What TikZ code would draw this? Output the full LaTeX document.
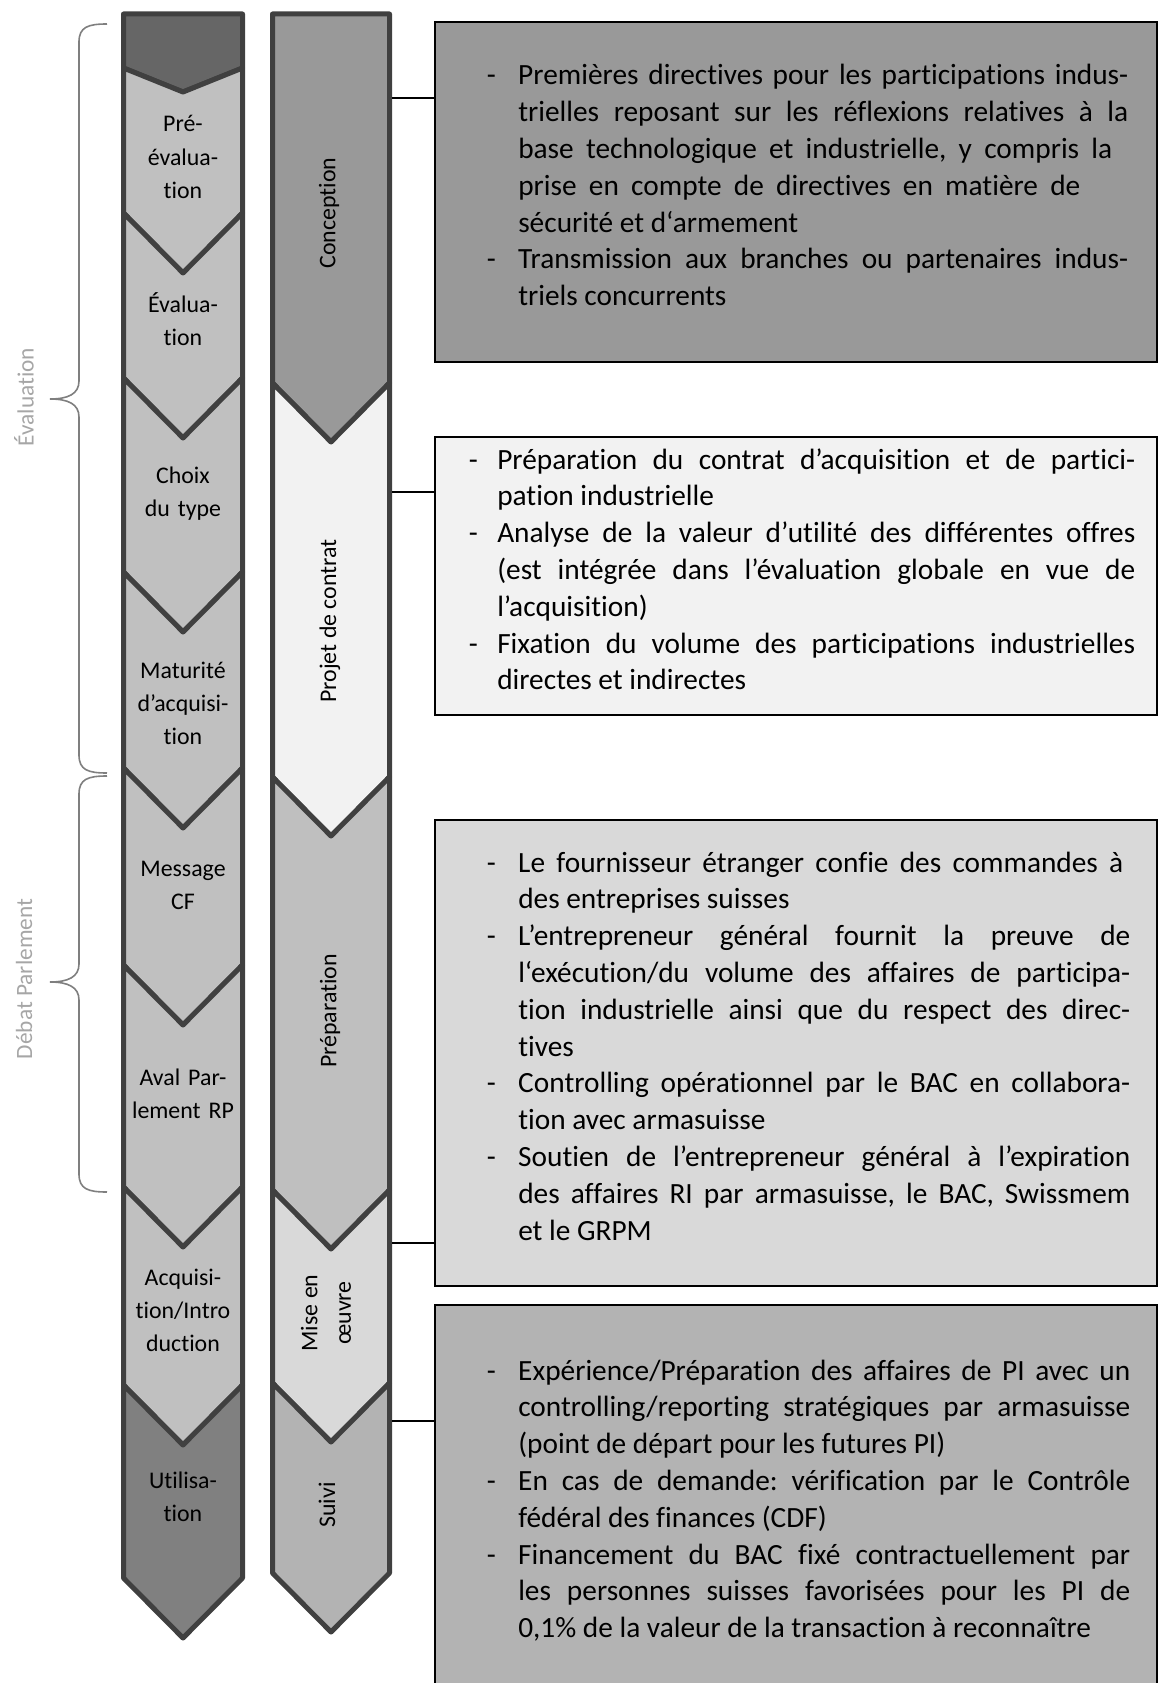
\documentclass[tikz,border=0pt]{standalone}
\usepackage{fontspec}
\setmainfont{Carlito}[Ligatures=CommonOff]
\usetikzlibrary{fit}
\frenchspacing
\newlength\pxu \setlength\pxu{0.75pt}
\newlength\jw
\newlength\dw
\newcommand\hd{\makebox[\dw][l]{-}}
\newcommand\ind{\hspace*{\dw}}
\newcommand\jl[2][\jw]{\makebox[#1][s]{#2}}
\definecolor{segline}{HTML}{404040}
\definecolor{ldark}{HTML}{666666}
\definecolor{lmid}{HTML}{C0C0C0}
\definecolor{lutil}{HTML}{808080}
\definecolor{conc}{HTML}{999999}
\definecolor{proj}{HTML}{F2F2F2}
\definecolor{prep}{HTML}{BFBFBF}
\definecolor{mise}{HTML}{D9D9D9}
\definecolor{suivi}{HTML}{B3B3B3}
\definecolor{bracegray}{HTML}{7F7F7F}
\definecolor{bracetext}{HTML}{A6A6A6}
\newcommand\chevseg[8]{\filldraw[seg, fill=#8] (#1,#4) -- (#3,#5) -- (#2,#4) -- (#2,#6) -- (#3,#7) -- (#1,#6) -- cycle;}
\begin{document}
\begin{tikzpicture}[x=0.75pt,y=-0.75pt,
  seg/.style={draw=segline, line width=3.75pt, line join=round},
  infobox/.style={draw=black, line width=1.5pt, inner sep=0pt},
  conn/.style={draw=black, line width=1.5pt},
  coltxt/.style={font=\fontsize{17.9}{25.1}\selectfont, align=center, inner sep=0pt},
  boxtxt/.style={anchor=base west, inner sep=0pt},
  bracetxt/.style={font=\fontsize{17.5}{21}\selectfont, text=bracetext, inner sep=0pt},
  curly/.style={draw=bracegray, line width=1.2pt}]
\useasboundingbox (0,0) rectangle (1160,1683);

% left column
\chevseg{123.5}{242.5}{183}{14}{14}{68}{92}{ldark}
\chevseg{123.5}{242.5}{183}{68}{92}{213}{273}{lmid}
\chevseg{123.5}{242.5}{183}{213}{273}{378}{438}{lmid}
\chevseg{123.5}{242.5}{183}{378}{438}{572}{632}{lmid}
\chevseg{123.5}{242.5}{183}{572}{632}{768}{828}{lmid}
\chevseg{123.5}{242.5}{183}{768}{828}{965}{1025}{lmid}
\chevseg{123.5}{242.5}{183}{965}{1025}{1187}{1247}{lmid}
\chevseg{123.5}{242.5}{183}{1187}{1247}{1385}{1445}{lmid}
\chevseg{123.5}{242.5}{183}{1385}{1445}{1578}{1638}{lutil}

% right column
\chevseg{272.5}{389.5}{331}{14}{14}{383}{442}{conc}
\chevseg{272.5}{389.5}{331}{383}{442}{777}{836}{proj}
\chevseg{272.5}{389.5}{331}{777}{836}{1190}{1249}{prep}
\chevseg{272.5}{389.5}{331}{1190}{1249}{1383}{1442}{mise}
\chevseg{272.5}{389.5}{331}{1383}{1442}{1573}{1632}{suivi}

% left column labels
\begin{scope}[every node/.style={coltxt, text width=82.5pt, anchor=base}]
\node (l1) at (183,132) {Pré-\\évalua-\\tion};
\node (l2) at (183,312) {Évalua-\\tion};
\node (l3) at (183,483) {Choix\\du type};
\node (l4) at (183,678) {Maturité\\d’acquisi-\\tion};
\node (l5) at (183,876) {Message\\CF};
\node (l6) at (183,1085) {Aval Par-\\lement RP};
\node (l7) at (183,1285) {Acquisi-\\tion/Intro\\duction};
\node (l8) at (183,1488) {Utilisa-\\tion};
\end{scope}

% right column labels
\node[coltxt, rotate=90] (r1) at (329,213) {Conception};
\node[coltxt, rotate=90] (r2) at (330,621) {Projet de contrat};
\node[coltxt, rotate=90] (r3) at (330,1011) {Préparation};
\node[coltxt, rotate=90] (r4) at (326,1313) {Mise en\\œuvre};
\node[coltxt, rotate=90] (r5) at (327,1505) {Suivi};

% braces
\draw[curly] (107,24) .. controls (88,24) and (79,27) .. (79,42) -- (79,381)
  .. controls (79,394) and (68,399) .. (50,399)
  .. controls (68,399) and (79,404) .. (79,417) -- (79,755)
  .. controls (79,770) and (88,773) .. (107,773);
\draw[curly] (107,776) .. controls (88,776) and (79,779) .. (79,794) -- (79,964)
  .. controls (79,977) and (68,982) .. (50,982)
  .. controls (68,982) and (79,987) .. (79,1000) -- (79,1174)
  .. controls (79,1189) and (88,1192) .. (107,1192);
\node[bracetxt, rotate=90] (be) at (24,397) {Évaluation};
\node[bracetxt, rotate=90] (bd) at (24,979) {Débat Parlement};

% boxes
\node[infobox, fill=conc, fit={(435,22) (1157,362)}] (box1) {};
\node[infobox, fill=proj, fit={(435,437) (1157,715)}] (box2) {};
\node[infobox, fill=mise, fit={(435,820) (1157,1286)}] (box3) {};
\node[infobox, fill=suivi, fit={(435,1305) (1157,1700)}] (box4) {};

% connectors
\coordinate (k1) at (392,98);
\coordinate (k2) at (392,492);
\coordinate (k3) at (392,1243);
\coordinate (k4) at (392,1421);
\draw[conn] (k1) -- (k1 -| box1.west);
\draw[conn] (k2) -- (k2 -| box2.west);
\draw[conn] (k3) -- (k3 -| box3.west);
\draw[conn] (k4) -- (k4 -| box4.west);

% box texts
\node[boxtxt] (t1) at (486.5,85) {\parbox[t]{700\pxu}{\fontsize{22}{27.6}\selectfont
\setlength\dw{31.5\pxu}\setlength\jw{610\pxu}\parindent=0pt
\hd\jl{Premières directives pour les participations indus-}\\
\ind\jl{trielles reposant sur les réflexions relatives à la}\\
\ind\jl[594\pxu]{base technologique et industrielle, y compris la}\\
\ind\jl[562\pxu]{prise en compte de directives en matière de}\\
\ind sécurité et d‘armement\\
\hd\jl{Transmission aux branches ou partenaires indus-}\\
\ind triels concurrents}};

\node[boxtxt] (t2) at (468.5,469) {\parbox[t]{700\pxu}{\fontsize{22}{27.6}\selectfont
\setlength\dw{28.5\pxu}\setlength\jw{638\pxu}\parindent=0pt
\hd\jl{Préparation du contrat d’acquisition et de partici-}\\
\ind pation industrielle\\
\hd\jl{Analyse de la valeur d’utilité des différentes offres}\\
\ind\jl{(est intégrée dans l’évaluation globale en vue de}\\
\ind l’acquisition)\\
\hd\jl{Fixation du volume des participations industrielles}\\
\ind directes et indirectes}};

\node[boxtxt] (t3) at (486.5,872) {\parbox[t]{700\pxu}{\fontsize{22}{27.6}\selectfont
\setlength\dw{31.5\pxu}\setlength\jw{612\pxu}\parindent=0pt
\hd\jl[605\pxu]{Le fournisseur étranger confie des commandes à}\\
\ind des entreprises suisses\\
\hd\jl{L’entrepreneur général fournit la preuve de}\\
\ind\jl{l‘exécution/du volume des affaires de participa-}\\
\ind\jl{tion industrielle ainsi que du respect des direc-}\\
\ind tives\\
\hd\jl{Controlling opérationnel par le BAC en collabora-}\\
\ind tion avec armasuisse\\
\hd\jl{Soutien de l’entrepreneur général à l’expiration}\\
\ind\jl{des affaires RI par armasuisse, le BAC, Swissmem}\\
\ind et le GRPM}};

\node[boxtxt] (t4) at (486.5,1380) {\parbox[t]{700\pxu}{\fontsize{22}{27.6}\selectfont
\setlength\dw{31.5\pxu}\setlength\jw{612\pxu}\parindent=0pt
\hd\jl{Expérience/Préparation des affaires de PI avec un}\\
\ind\jl{controlling/reporting stratégiques par armasuisse}\\
\ind (point de départ pour les futures PI)\\
\hd\jl{En cas de demande: vérification par le Contrôle}\\
\ind fédéral des finances (CDF)\\
\hd\jl{Financement du BAC fixé contractuellement par}\\
\ind\jl{les personnes suisses favorisées pour les PI de}\\
\ind 0,1\% de la valeur de la transaction à reconnaître}};
\end{tikzpicture}
\end{document}
